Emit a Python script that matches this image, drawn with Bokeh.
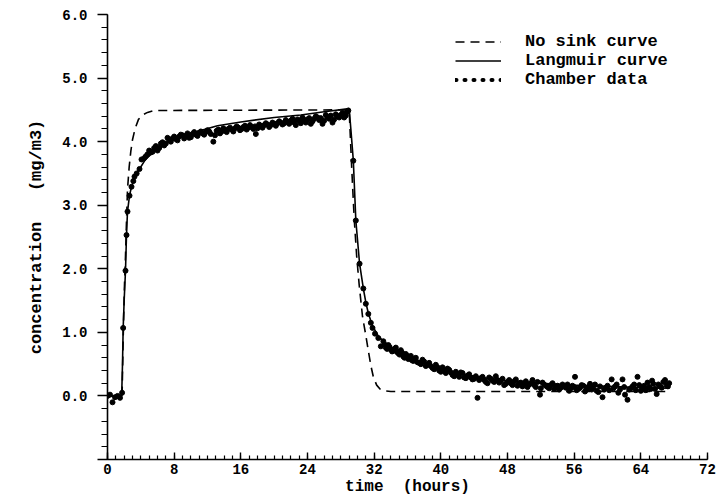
from bokeh.plotting import figure
from bokeh.models import FixedTicker, PrintfTickFormatter, Legend, LegendItem
from bokeh.embed import file_html
from bokeh.resources import INLINE

# ---------------- data ----------------
# No sink curve (dashed)
nosink_t = [0, 1.75, 1.85, 1.95, 2.05, 2.16, 2.28, 2.4, 2.6, 2.8, 3.0, 3.3, 3.72, 4.2, 4.8, 5.6,
            29.0, 29.3, 29.6, 29.9, 30.2, 30.6, 31.0, 31.3, 31.6, 31.9, 32.3, 32.7, 33.2, 34.0, 67.4]
nosink_c = [0, 0, 0.7, 1.3, 1.8, 2.2, 2.75, 3.25, 3.6, 3.85, 4.03, 4.2, 4.35, 4.42, 4.46, 4.49,
            4.5, 3.6, 2.8, 2.2, 1.75, 1.25, 0.95, 0.71, 0.48, 0.3, 0.17, 0.11, 0.08, 0.07, 0.07]

# Langmuir curve (solid)
langmuir_t = [0, 1.7, 1.8, 1.88, 2.0, 2.16, 2.28, 2.4, 2.64, 2.88, 3.24, 3.84, 4.56, 5.52, 6.96,
              8.16, 10, 13.2, 16, 20, 23.2, 26, 29.0, 29.2, 29.5, 29.8, 30.25, 30.7, 31.0, 31.3,
              31.8, 32.5, 33.3, 34.3, 35.5, 36.7, 38.3, 40, 42, 44, 46, 48, 52, 56, 60, 64, 67.4]
langmuir_c = [0, 0, 0.5, 1.07, 1.5, 1.97, 2.53, 2.9, 3.15, 3.29, 3.42, 3.57, 3.72, 3.84, 3.97,
              4.05, 4.13, 4.25, 4.31, 4.38, 4.42, 4.47, 4.52, 4.2, 3.7, 2.76, 2.08, 1.69, 1.47, 1.3,
              1.1, 0.94, 0.83, 0.73, 0.63, 0.56, 0.49, 0.42, 0.36, 0.31, 0.27, 0.24, 0.2, 0.17, 0.15,
              0.13, 0.12]

# Chamber data (points)
chamber_t = [0.0, 0.3, 0.6, 0.9, 1.2, 1.5, 1.75, 1.88, 2.16, 2.28, 2.4, 2.64, 2.88, 3.1, 3.24,
             3.5, 3.84, 4.08, 4.4, 4.8, 5.2, 5.6, 6.0, 6.4, 6.8, 7.2, 7.6, 8.0, 8.4, 8.8, 9.2,
             9.6, 10.0, 10.4, 10.8, 11.2, 11.6, 12.0, 12.4, 12.7, 13.1, 13.5, 13.9, 14.3, 14.7,
             15.1, 15.5, 15.9, 16.3, 16.7, 17.1, 17.5, 17.8, 18.2, 18.6, 19.0, 19.4, 19.8, 20.2,
             20.6, 21.0, 21.4, 21.8, 22.2, 22.6, 23.0, 23.4, 23.8, 24.2, 24.6, 25.0, 25.4, 25.8,
             26.2, 26.6, 27.0, 27.4, 27.8, 28.2, 28.6, 28.9,
             4.6, 5.0, 5.4, 5.8, 6.2, 6.6, 7.0, 7.4, 7.8, 8.2, 8.6, 9.0, 9.4, 9.8, 10.2, 10.6,
             11.0, 11.4, 11.8, 12.2, 12.9, 13.3, 13.7, 14.1, 14.5, 14.9, 15.3, 15.7, 16.1, 16.5,
             16.9, 17.3, 17.7, 18.0, 18.4, 18.8, 19.2, 19.6, 20.0, 20.4, 20.8, 21.2, 21.6, 22.0,
             22.4, 22.8, 23.2, 23.6, 24.0, 24.4, 24.8, 25.2, 25.6, 26.0, 26.4, 26.8, 27.2, 27.6,
             28.0, 28.4, 28.75,
             29.5, 29.8, 30.25, 30.7, 31.0, 31.3, 31.6, 31.8, 32.1, 32.5, 32.8, 33.1, 33.4, 33.7,
             34.0, 34.3, 34.6, 34.9, 35.2, 35.5, 35.8, 36.1, 36.4, 36.7, 37.0, 37.4, 37.8, 38.2,
             38.6, 39.0, 39.4, 39.8, 40.2, 40.6, 41.0, 41.4, 41.8, 42.2, 42.6, 43.0, 43.4, 43.8,
             44.2, 44.4, 44.6, 45.0, 45.4, 45.8, 46.2, 46.6, 47.0, 47.4, 47.8, 48.2, 48.6, 49.0,
             49.4, 49.8, 50.2, 50.6, 51.0, 51.4, 51.9, 52.2, 52.6, 53.0, 53.4, 53.8, 54.2, 54.6,
             55.0, 55.4, 55.8, 56.1, 56.5, 56.9, 57.3, 57.7, 58.1, 58.5, 58.9, 59.4, 59.8, 60.2,
             60.5, 60.9, 61.3, 61.8, 62.1, 62.4, 62.8, 63.2, 63.6, 64.0, 64.4, 64.8, 65.2, 65.5,
             65.9, 66.3, 66.7, 67.1, 67.4,
             33.25, 33.55, 33.85, 34.15, 34.45, 34.75, 35.05, 35.35, 35.65, 35.95, 36.25, 36.55,
             36.85, 37.2, 37.6, 38.0, 38.4, 38.8, 39.2, 39.6, 40.0, 40.4, 40.8, 41.2, 41.6, 42.0,
             42.4, 42.8, 43.2, 43.6, 44.0, 44.8, 45.2, 45.6, 46.0, 46.4, 46.8, 47.2, 47.6, 48.0,
             48.4, 48.8, 49.2, 49.6, 50.0, 50.4, 50.8, 51.2, 51.6, 52.0, 52.4, 52.8, 53.2, 53.6,
             54.0, 54.4, 54.8, 55.2, 55.6, 56.0, 56.3, 56.7, 57.1, 57.5, 57.9, 58.3, 58.7, 59.1,
             59.6, 60.0, 60.7, 61.1, 61.5, 62.0, 62.6, 63.0, 63.4, 63.8, 64.2, 64.6, 65.0, 65.35,
             65.7, 66.1, 66.5, 66.9, 67.25]
chamber_c = [0.0, 0.02, -0.1, -0.02, 0.0, -0.03, 0.05, 1.07, 1.97, 2.53, 2.9, 3.15, 3.29, 3.38,
             3.45, 3.5, 3.57, 3.72, 3.74, 3.80, 3.83, 3.90, 3.86, 3.97, 3.94, 4.06, 4.00, 4.08,
             4.02, 4.11, 4.05, 4.13, 4.07, 4.15, 4.09, 4.16, 4.11, 4.18, 4.12, 4.00, 4.17, 4.13,
             4.21, 4.15, 4.22, 4.16, 4.24, 4.18, 4.23, 4.19, 4.26, 4.20, 4.12, 4.27, 4.22, 4.29,
             4.23, 4.30, 4.25, 4.32, 4.27, 4.34, 4.28, 4.36, 4.26, 4.33, 4.38, 4.30, 4.37, 4.32,
             4.40, 4.34, 4.28, 4.42, 4.36, 4.30, 4.43, 4.38, 4.45, 4.41, 4.49,
             3.77, 3.86, 3.84, 3.93, 3.90, 3.99, 3.97, 4.03, 4.05, 4.04, 4.08, 4.10, 4.09, 4.06,
             4.12, 4.11, 4.14, 4.13, 4.15, 4.16, 4.10, 4.19, 4.16, 4.18, 4.20, 4.19, 4.21, 4.22,
             4.20, 4.25, 4.22, 4.23, 4.24, 4.21, 4.25, 4.26, 4.27, 4.26, 4.28, 4.29, 4.30, 4.29,
             4.31, 4.33, 4.30, 4.35, 4.29, 4.34, 4.35, 4.28, 4.36, 4.38, 4.37, 4.33, 4.39, 4.41,
             4.35, 4.40, 4.42, 4.38, 4.47,
             3.70, 2.76, 2.08, 1.69, 1.45, 1.29, 1.15, 1.07, 0.98, 0.91, 0.78, 0.86, 0.76, 0.80,
             0.73, 0.71, 0.76, 0.67, 0.72, 0.62, 0.66, 0.58, 0.63, 0.55, 0.60, 0.52, 0.57, 0.47,
             0.52, 0.44, 0.49, 0.40, 0.45, 0.36, 0.41, 0.33, 0.38, 0.30, 0.36, 0.28, 0.34, 0.26,
             0.31, -0.03, 0.25, 0.30, 0.22, 0.29, 0.24, 0.31, 0.21, 0.27, 0.19, 0.25, 0.17, 0.26,
             0.20, 0.15, 0.23, 0.18, 0.25, 0.14, 0.02, 0.21, 0.16, 0.12, 0.20, 0.15, 0.10, 0.18,
             0.13, 0.08, 0.16, 0.30, 0.11, 0.17, 0.07, 0.14, 0.10, 0.18, 0.06, -0.02, 0.13, 0.09,
             0.26, 0.15, 0.05, 0.26, 0.02, -0.06, 0.12, 0.18, 0.30, 0.08, 0.16, 0.21, 0.11, 0.19,
             0.03, 0.15, 0.22, 0.17, 0.20,
             0.81, 0.74, 0.77, 0.70, 0.74, 0.69, 0.65, 0.68, 0.60, 0.63, 0.59, 0.56, 0.58, 0.53,
             0.50, 0.54, 0.49, 0.47, 0.42, 0.45, 0.38, 0.40, 0.43, 0.37, 0.31, 0.34, 0.37, 0.29,
             0.32, 0.29, 0.27, 0.28, 0.25, 0.20, 0.27, 0.22, 0.25, 0.24, 0.17, 0.22, 0.20, 0.23,
             0.16, 0.21, 0.19, 0.14, 0.20, 0.17, 0.22, 0.12, 0.18, 0.14, 0.17, 0.11, 0.16, 0.13,
             0.15, 0.18, 0.12, 0.14, 0.09, 0.13, 0.16, 0.10, 0.19, 0.13, 0.08, 0.15, 0.10, 0.16,
             0.12, 0.18, 0.10, 0.14, 0.10, 0.15, 0.09, 0.17, 0.12, 0.09, 0.14, 0.24, 0.11, 0.18,
             0.13, 0.25, 0.15]

# axis ticks
x_major = [0, 8, 16, 24, 32, 40, 48, 56, 64, 72]
x_minor = list(range(0, 73))
y_major = [-1, 0, 1, 2, 3, 4, 5, 6]
y_minor = [round(-1 + 0.2 * i, 1) for i in range(36)]

x_label = "time\u00a0\u00a0(hours)"
y_label = "concentration\u00a0\u00a0\u00a0(mg/m3)"
legend_labels = ["No sink curve", "Langmuir curve", "Chamber data"]

FONT = "Liberation Mono"
NAN = float("nan")

# ---------------- figure ----------------
p = figure(width=724, height=500, output_backend="svg", toolbar_location=None,
           x_range=(0, 72), y_range=(-1, 6),
           min_border_left=107, min_border_right=17, min_border_top=14, min_border_bottom=41)
p.outline_line_color = None
p.grid.visible = False
p.background_fill_color = "white"
p.border_fill_color = "white"

dash_r = p.line(nosink_t, nosink_c, line_color="black", line_width=1.6, line_dash="9 6")
solid_r = p.line(langmuir_t, langmuir_c, line_color="black", line_width=1.6)
p.scatter(chamber_t, chamber_c, marker="circle", size=5, color="black")
# legend-only key (draws nothing in the plot): a row of dots like the original key
proxy = p.line(x=[NAN], y=[NAN], line_color="black", line_width=4, line_dash="1 8",
               line_cap="round")

xa = p.xaxis[0]
xa.ticker = FixedTicker(ticks=x_major, minor_ticks=x_minor)
xa.major_tick_in = 7
xa.major_tick_out = 0
xa.minor_tick_in = 4
xa.minor_tick_out = 0
xa.major_label_standoff = 4
xa.axis_label = x_label
xa.axis_label_standoff = 1

ya = p.yaxis[0]
ya.ticker = FixedTicker(ticks=y_major, minor_ticks=y_minor)
ya.formatter = PrintfTickFormatter(format="%.1f")
ya.major_label_overrides = {-1: ""}
ya.major_tick_out = 10
ya.major_tick_in = 0
ya.minor_tick_out = 6
ya.minor_tick_in = 0
ya.major_label_standoff = 10
ya.axis_label = y_label
ya.axis_label_standoff = 13

for ax in (xa, ya):
    ax.axis_line_width = 1.6
    ax.axis_line_color = "black"
    ax.major_tick_line_color = "black"
    ax.minor_tick_line_color = "black"
    ax.major_tick_line_width = 1.4
    ax.minor_tick_line_width = 1.2
    ax.major_label_text_font = FONT
    ax.major_label_text_font_size = "14px"
    ax.major_label_text_font_style = "bold"
    ax.major_label_text_color = "black"
    ax.axis_label_text_font = FONT
    ax.axis_label_text_font_style = "bold"
    ax.axis_label_text_color = "black"
xa.axis_label_text_font_size = "16px"
ya.axis_label_text_font_size = "17px"

legend = Legend(items=[LegendItem(label=legend_labels[0], renderers=[dash_r]),
                       LegendItem(label=legend_labels[1], renderers=[solid_r]),
                       LegendItem(label=legend_labels[2], renderers=[proxy])],
                location=(348, 370), border_line_color=None, background_fill_alpha=0,
                padding=0, margin=0, spacing=0, glyph_width=46, glyph_height=17,
                label_height=17, label_standoff=24, label_text_font=FONT,
                label_text_font_size="17px", label_text_font_style="bold",
                label_text_color="black")
p.add_layout(legend)

open("out.html", "w").write(file_html(p, INLINE))
